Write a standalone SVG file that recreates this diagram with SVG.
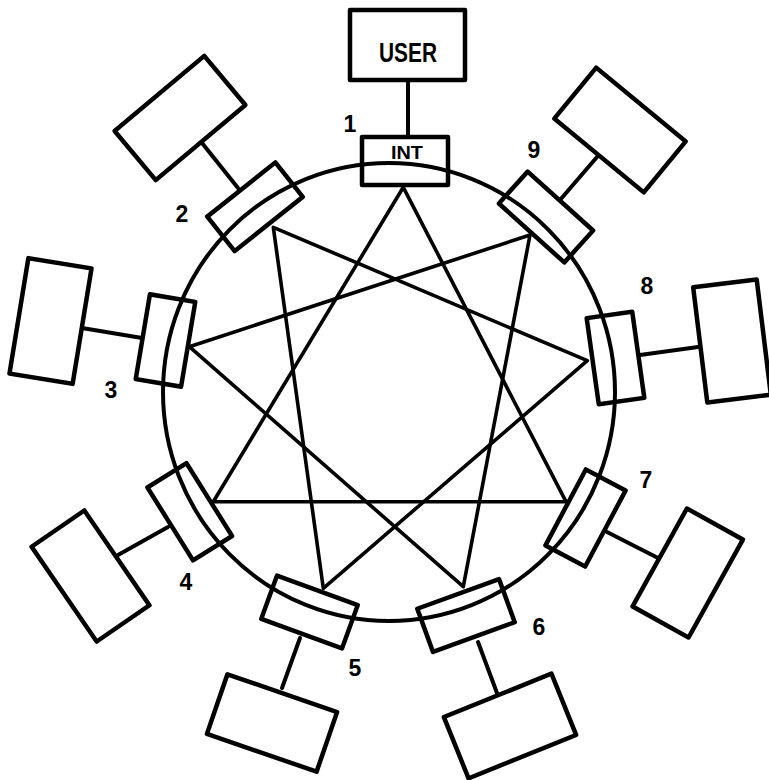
<svg xmlns="http://www.w3.org/2000/svg" width="769" height="780" viewBox="0 0 769 780">
<style>
.bx{fill:none;stroke:#000;stroke-width:4.5;stroke-linejoin:round}
.ln{fill:none;stroke:#000;stroke-width:4;stroke-linecap:round}
.st{fill:none;stroke:#000;stroke-width:3.6;stroke-linecap:round;stroke-linejoin:round}
.lb{font-family:"Liberation Sans",Arial,sans-serif;font-weight:bold;font-size:23px;text-anchor:middle;fill:#000}
.tx{font-family:"Liberation Sans",Arial,sans-serif;font-weight:bold;text-anchor:middle;fill:#000}
</style>
<rect width="769" height="780" fill="#fff"/>
<ellipse id="ring" cx="389" cy="392" rx="226" ry="229" class="ln"/>
<g id="connectors">
<polygon class="st" points="403.3,187.3 213.3,501.7 566,501.7"/>
<polygon class="st" points="273.3,227.3 323.3,588.3 587.3,360.7"/>
<polygon class="st" points="189.3,346.7 463.3,586.7 530,235"/>
<line class="ln" x1="408" y1="80" x2="408" y2="137"/>
<line class="ln" x1="202" y1="143" x2="238" y2="188"/>
<line class="ln" x1="82" y1="328" x2="142" y2="338"/>
<line class="ln" x1="118" y1="555" x2="168" y2="527"/>
<line class="ln" x1="282" y1="688" x2="300" y2="638"/>
<line class="ln" x1="497" y1="693" x2="478" y2="642"/>
<line class="ln" x1="658" y1="558" x2="607" y2="532"/>
<line class="ln" x1="698" y1="347" x2="640" y2="355"/>
<line class="ln" x1="597" y1="157" x2="560" y2="200"/>
</g>
<g id="user">
<rect class="bx" x="350" y="10" width="115" height="70"/>
<text class="tx" x="408" y="62" font-size="27" textLength="58" lengthAdjust="spacingAndGlyphs">USER</text>
</g>
<g id="node1">
<rect class="bx" x="362" y="137" width="86" height="48"/>
<text class="tx" x="407" y="159" font-size="18" textLength="32" lengthAdjust="spacingAndGlyphs">INT</text>
<text class="lb" x="350" y="132">1</text>
</g>
<g id="node2">
<rect class="bx" x="-43.5" y="-22" width="87" height="44" transform="translate(255,206.75) rotate(-38.5)"/>
<rect class="bx" x="-58.5" y="-32" width="117" height="64" transform="translate(180,118) rotate(-40)"/>
<text class="lb" x="182" y="222">2</text>
</g>
<g id="node3">
<rect class="bx" x="-23" y="-43" width="46" height="86" transform="translate(165.5,340.5) rotate(9.5)"/>
<rect class="bx" x="-32" y="-58.5" width="64" height="117" transform="translate(50.5,321) rotate(9.3)"/>
<text class="lb" x="111" y="398">3</text>
</g>
<g id="node4">
<rect class="bx" x="-23" y="-43" width="46" height="86" transform="translate(189.75,511.75) rotate(-32)"/>
<rect class="bx" x="-32" y="-57.5" width="64" height="115" transform="translate(90.5,576) rotate(-34.5)"/>
<text class="lb" x="186" y="590">4</text>
</g>
<g id="node5">
<rect class="bx" x="-43" y="-23" width="86" height="46" transform="translate(309.5,612) rotate(20)"/>
<rect class="bx" x="-58" y="-31.5" width="116" height="63" transform="translate(272,723) rotate(19)"/>
<text class="lb" x="355" y="676">5</text>
</g>
<g id="node6">
<rect class="bx" x="-43.5" y="-23" width="87" height="46" transform="translate(466,615.5) rotate(-20)"/>
<rect class="bx" x="-58" y="-33" width="116" height="66" transform="translate(510,726) rotate(-22)"/>
<text class="lb" x="539" y="635">6</text>
</g>
<g id="node7">
<rect class="bx" x="-22.5" y="-43" width="45" height="86" transform="translate(585.5,518) rotate(28)"/>
<rect class="bx" x="-32" y="-56" width="64" height="112" transform="translate(687.75,573) rotate(29)"/>
<text class="lb" x="646" y="488">7</text>
</g>
<g id="node8">
<rect class="bx" x="-23" y="-43.5" width="46" height="87" transform="translate(615.5,358) rotate(-8)"/>
<rect class="bx" x="-32" y="-58" width="64" height="116" transform="translate(732,341) rotate(-7)"/>
<text class="lb" x="647" y="294">8</text>
</g>
<g id="node9">
<rect class="bx" x="-44" y="-21.5" width="88" height="43" transform="translate(546,217) rotate(42)"/>
<rect class="bx" x="-58" y="-33" width="116" height="66" transform="translate(620,130) rotate(39.5)"/>
<text class="lb" x="534" y="158">9</text>
</g>
</svg>
